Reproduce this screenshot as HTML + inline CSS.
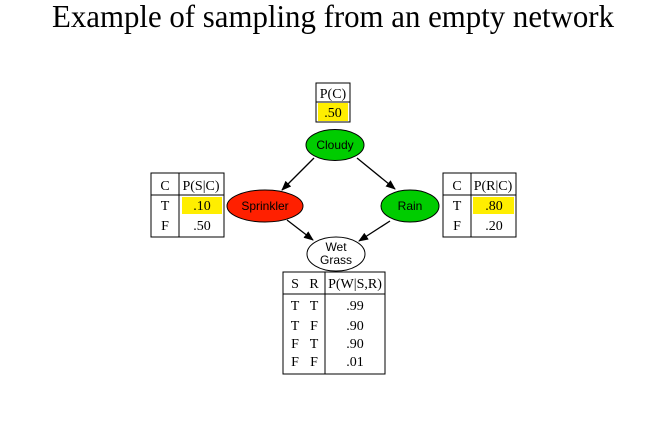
<!DOCTYPE html>
<html><head><meta charset="utf-8"><style>
body{margin:0;background:#fff;}
svg{display:block;}
.t{font-family:"Liberation Serif",serif;font-size:14px;fill:#000;}
.n{font-family:"Liberation Sans",sans-serif;font-size:12px;fill:#000;}
</style></head><body>
<svg width="646" height="424" viewBox="0 0 646 424">
<defs><marker id="ah" markerWidth="10" markerHeight="8" refX="9" refY="4" orient="auto" markerUnits="userSpaceOnUse"><path d="M0,0 L10,4 L0,8 z" fill="#000"/></marker></defs>
<text x="333" y="27" text-anchor="middle" font-family="Liberation Serif, serif" font-size="32" textLength="562" lengthAdjust="spacingAndGlyphs">Example of sampling from an empty network</text>

<g stroke="#000" stroke-width="1.3" marker-end="url(#ah)">
<line x1="314" y1="158" x2="282" y2="190"/>
<line x1="357" y1="158" x2="395" y2="189"/>
<line x1="287" y1="220" x2="313" y2="240"/>
<line x1="390" y1="221" x2="359" y2="241"/>
</g>

<g><ellipse cx="335" cy="145" rx="29" ry="15.5" fill="#00cc00" stroke="#000"/><text class="n" x="335" y="149" text-anchor="middle">Cloudy</text></g>
<g><ellipse cx="265" cy="206" rx="38" ry="16" fill="#ff2000" stroke="#000"/><text class="n" x="265" y="210" text-anchor="middle">Sprinkler</text></g>
<g><ellipse cx="410" cy="206" rx="29" ry="16" fill="#00cc00" stroke="#000"/><text class="n" x="410" y="210" text-anchor="middle">Rain</text></g>
<g><ellipse cx="336" cy="254" rx="29" ry="17" fill="#fff" stroke="#000"/><text class="n" x="336" y="251" text-anchor="middle">Wet</text><text class="n" x="336" y="264" text-anchor="middle">Grass</text></g>

<g>
<rect x="318" y="103" width="30" height="18" fill="#ffee00"/>
<rect x="316" y="83" width="34" height="39" fill="none" stroke="#000"/>
<line x1="316" y1="102" x2="350" y2="102" stroke="#000"/>
<text class="t" x="333" y="98" text-anchor="middle">P(C)</text>
<text class="t" x="333" y="117" text-anchor="middle">.50</text>
</g>

<g>
<rect x="182" y="197" width="40" height="17" fill="#ffee00"/>
<rect x="151" y="173" width="73" height="64" fill="none" stroke="#000"/>
<line x1="179" y1="173" x2="179" y2="237" stroke="#000"/>
<line x1="151" y1="195" x2="224" y2="195" stroke="#000"/>
<text class="t" x="165" y="190" text-anchor="middle">C</text>
<text class="t" x="201" y="190" text-anchor="middle">P(S|C)</text>
<text class="t" x="165" y="210" text-anchor="middle">T</text>
<text class="t" x="202" y="210" text-anchor="middle">.10</text>
<text class="t" x="165" y="230" text-anchor="middle">F</text>
<text class="t" x="202" y="230" text-anchor="middle">.50</text>
</g>

<g>
<rect x="473" y="197" width="41" height="17" fill="#ffee00"/>
<rect x="443" y="173" width="73" height="64" fill="none" stroke="#000"/>
<line x1="471" y1="173" x2="471" y2="237" stroke="#000"/>
<line x1="443" y1="195" x2="516" y2="195" stroke="#000"/>
<text class="t" x="457" y="190" text-anchor="middle">C</text>
<text class="t" x="493" y="190" text-anchor="middle">P(R|C)</text>
<text class="t" x="457" y="210" text-anchor="middle">T</text>
<text class="t" x="494" y="210" text-anchor="middle">.80</text>
<text class="t" x="457" y="230" text-anchor="middle">F</text>
<text class="t" x="494" y="230" text-anchor="middle">.20</text>
</g>

<g>
<rect x="283" y="272" width="102" height="102" fill="none" stroke="#000"/>
<line x1="325" y1="272" x2="325" y2="374" stroke="#000"/>
<line x1="283" y1="294" x2="385" y2="294" stroke="#000"/>
<text class="t" x="295" y="288" text-anchor="middle">S</text>
<text class="t" x="314" y="288" text-anchor="middle">R</text>
<text class="t" x="355" y="288" text-anchor="middle">P(W|S,R)</text>
<text class="t" x="295" y="310" text-anchor="middle">T</text><text class="t" x="314" y="310" text-anchor="middle">T</text><text class="t" x="355" y="310" text-anchor="middle">.99</text>
<text class="t" x="295" y="330" text-anchor="middle">T</text><text class="t" x="314" y="330" text-anchor="middle">F</text><text class="t" x="355" y="330" text-anchor="middle">.90</text>
<text class="t" x="295" y="348" text-anchor="middle">F</text><text class="t" x="314" y="348" text-anchor="middle">T</text><text class="t" x="355" y="348" text-anchor="middle">.90</text>
<text class="t" x="295" y="366" text-anchor="middle">F</text><text class="t" x="314" y="366" text-anchor="middle">F</text><text class="t" x="355" y="366" text-anchor="middle">.01</text>
</g>
</svg>
</body></html>
